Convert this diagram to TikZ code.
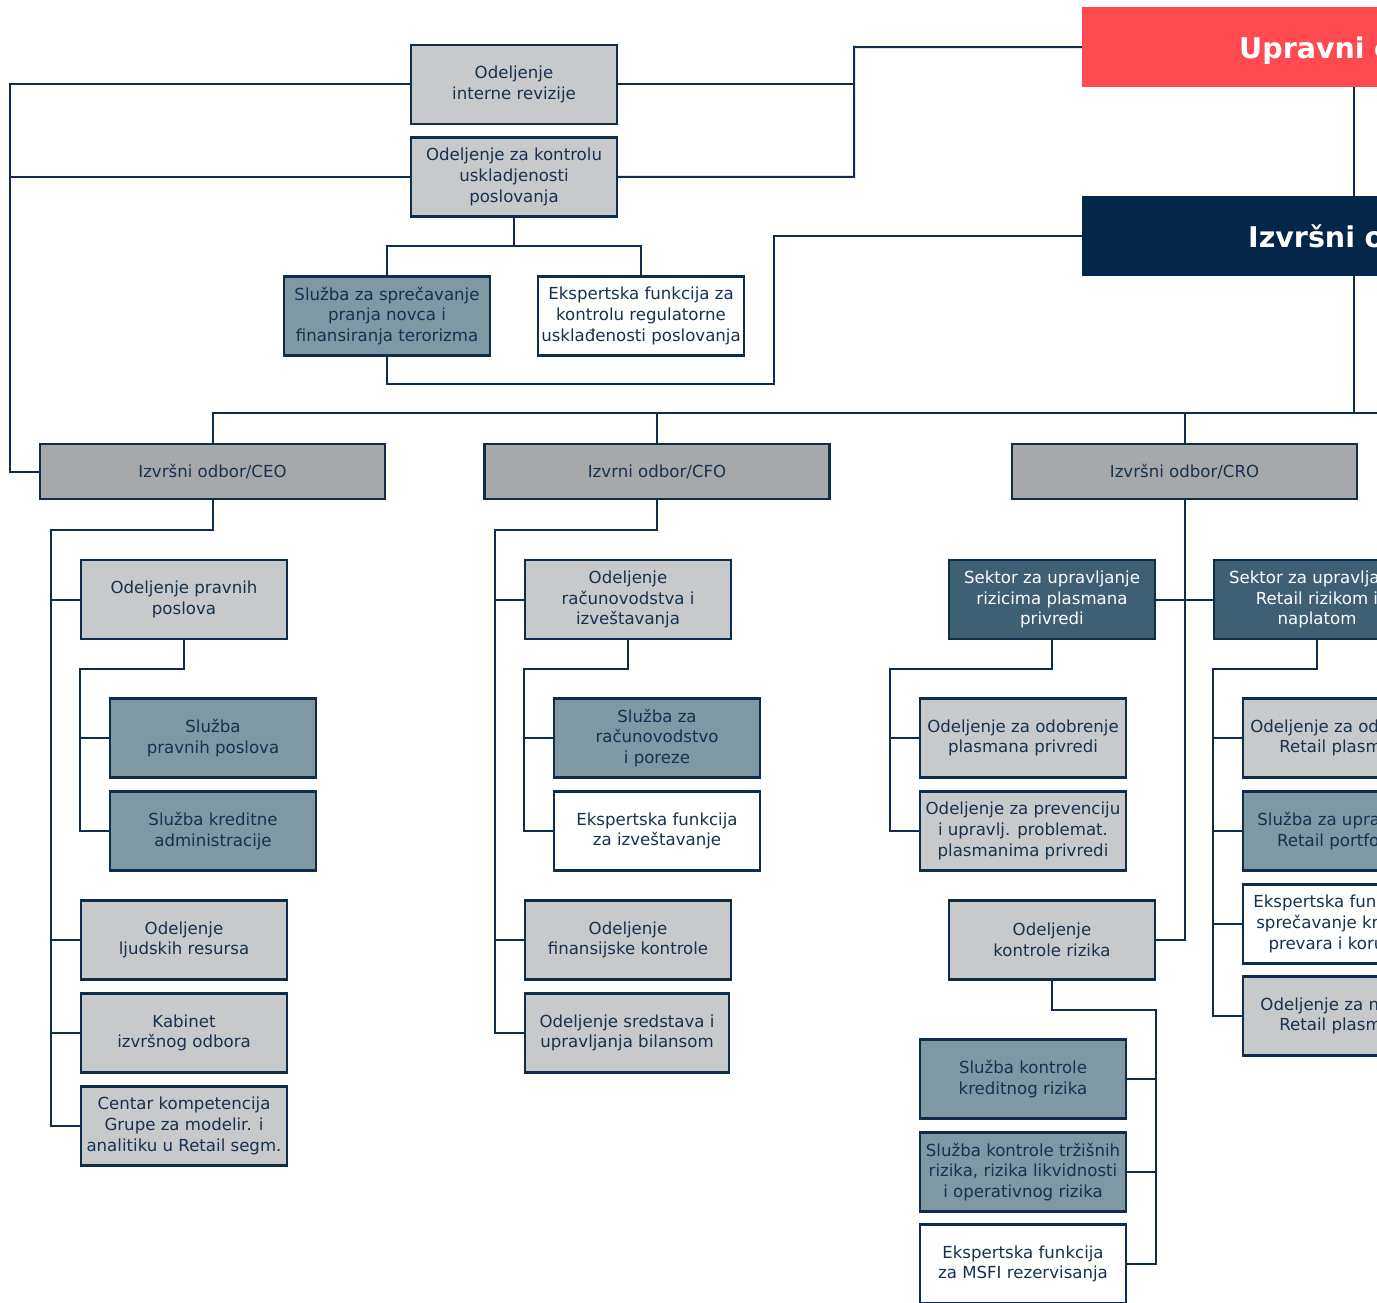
\documentclass[tikz,border=0pt]{standalone}
\usepackage{fontspec}
\setmainfont{DejaVu Sans}
\usetikzlibrary{calc}

\definecolor{boardred}{HTML}{FF4A52}
\definecolor{execnavy}{HTML}{03264A}
\definecolor{linenavy}{HTML}{0F2C4A}
\definecolor{textnavy}{HTML}{17314F}
\definecolor{lightgrey}{HTML}{C8C9CB}
\definecolor{midgrey}{HTML}{A7A8AA}
\definecolor{steel}{HTML}{7F98A3}
\definecolor{darksteel}{HTML}{3E6075}

\begin{document}
\begin{tikzpicture}[x=1pt, y=-1pt,
  box/.style={rectangle, draw=linenavy, line width=2.2pt, minimum width=206pt,
    minimum height=79pt, align=center, inner sep=2pt, text=textnavy,
    font=\fontsize{16.6}{20.6}\selectfont},
  dept/.style={box, fill=lightgrey},
  unit/.style={box, fill=steel},
  expert/.style={box, fill=white},
  sector/.style={box, fill=darksteel, text=white},
  exec/.style={box, fill=midgrey, minimum width=345pt, minimum height=55pt},
  title/.style={rectangle, anchor=north west, minimum height=80pt, text width=260pt,
    text depth=0pt, align=left, text=white, font=\fontsize{28.5}{32}\selectfont\bfseries},
  link/.style={draw=linenavy, line width=2pt}]
  \useasboundingbox (0,0) rectangle (1377,1303);
  \clip (0,0) rectangle (1377,1303);

  % board and executive committee
  \node[title, fill=boardred, inner xsep=157pt] (upr) at (1082,7) {Upravni odbor};
  \node[title, fill=execnavy, inner xsep=166pt] (izv) at (1082,196) {Izvršni odbor};

  % control functions
  \node[dept] (irev) at (514,84.5) {Odeljenje\\interne revizije};
  \node[dept] (kontr) at (514,177) {Odeljenje za kontrolu\\uskladjenosti\\poslovanja};
  \node[unit] (spnt) at (387,316) {Služba za sprečavanje\\pranja novca i\\finansiranja terorizma};
  \node[expert] (ekreg) at (641,316) {Ekspertska funkcija za\\kontrolu regulatorne\\usklađenosti poslovanja};

  % executive board members
  \node[exec] (ceo) at (212.5,471.5) {Izvršni odbor/CEO};
  \node[exec] (cfo) at (657,471.5) {Izvrni odbor/CFO};
  \node[exec] (cro) at (1184.5,471.5) {Izvršni odbor/CRO};

  % CEO
  \node[dept] (pravni) at (184,599.5) {Odeljenje pravnih\\poslova};
  \node[unit] (slprav) at (213,738) {Služba\\pravnih poslova};
  \node[unit] (slkred) at (213,831) {Služba kreditne\\administracije};
  \node[dept] (ljud) at (184,940) {Odeljenje\\ljudskih resursa};
  \node[dept] (kabinet) at (184,1033) {Kabinet\\izvršnog odbora};
  \node[dept] (centar) at (184,1126) {Centar kompetencija\\Grupe za modelir. i\\analitiku u Retail segm.};

  % CFO
  \node[dept] (racun) at (628,599.5) {Odeljenje\\računovodstva i\\izveštavanja};
  \node[unit] (slracun) at (657,738) {Služba za\\računovodstvo\\i poreze};
  \node[expert] (ekizv) at (657,831) {Ekspertska funkcija\\za izveštavanje};
  \node[dept] (finkon) at (628,940) {Odeljenje\\finansijske kontrole};
  \node[dept, minimum width=204pt] (sredst) at (627,1033) {Odeljenje sredstava i\\upravljanja bilansom};

  % CRO
  \node[sector] (sekpriv) at (1052,599.5) {Sektor za upravljanje\\rizicima plasmana\\privredi};
  \node[dept] (odpriv) at (1023,738) {Odeljenje za odobrenje\\plasmana privredi};
  \node[dept] (prevpriv) at (1023,831) {Odeljenje za prevenciju\\i upravlj. problemat.\\plasmanima privredi};
  \node[dept] (kontriz) at (1052,940) {Odeljenje\\kontrole rizika};
  \node[unit] (slkriz) at (1023,1079) {Služba kontrole\\kreditnog rizika};
  \node[unit] (sltrz) at (1023,1172) {Služba kontrole tržišnih\\rizika, rizika likvidnosti\\i operativnog rizika};
  \node[expert] (ekmsfi) at (1023,1264) {Ekspertska funkcija\\za MSFI rezervisanja};

  \node[sector] (sekret) at (1317,599.5) {Sektor za upravljanje\\Retail rizikom i\\naplatom};
  \node[dept] (odret) at (1346,738) {Odeljenje za odobrenje\\Retail plasmana};
  \node[unit] (slret) at (1346,831) {Služba za upravljanje\\Retail portfoliom};
  \node[expert] (ekret) at (1346,924) {Ekspertska funkcija za\\sprečavanje kreditnih\\prevara i korupcije};
  \node[dept] (napret) at (1346,1016) {Odeljenje za naplatu\\Retail plasmana};

  % bends of the connectors
  \coordinate (ubus) at (854,47);
  \coordinate (lbus) at (10,0);
  \coordinate (kbus) at (514,246);
  \coordinate (ibus) at (774,384);
  \coordinate (rbus) at (1354,413);
  \coordinate (ebus) at (1400,413);
  \coordinate (ceol) at (51,530);
  \coordinate (pravl) at (80,669);
  \coordinate (cfol) at (495,530);
  \coordinate (racl) at (524,669);
  \coordinate (privl) at (890,669);
  \coordinate (kril) at (1156,1010);
  \coordinate (retl) at (1213,669);

  % top
  \draw[link] (upr.west) -- (ubus) |- (kontr.east);
  \draw[link] (irev.east) -- (irev.east -| ubus);
  \draw[link] (irev.west) -- (irev.west -| lbus) |- (ceo.west);
  \draw[link] (kontr.west) -- (kontr.west -| lbus);
  \draw[link] (kontr.south) -- (kbus);
  \draw[link] (spnt.north) |- (kbus) -| (ekreg.north);
  \draw[link] (spnt.south) |- (ibus) |- (izv.west);
  \draw[link] (upr.south -| rbus) -- (izv.north -| rbus);
  \draw[link] (izv.south -| rbus) -- (rbus);
  \draw[link] (ceo.north) |- (ebus);
  \foreach \n in {cfo, cro}
    \draw[link] (\n.north) -- (\n.north |- ebus);

  % CEO
  \draw[link] (ceo.south) |- (ceol) |- (centar.west);
  \foreach \n in {pravni, ljud, kabinet}
    \draw[link] (\n.west) -- (\n.west -| ceol);
  \draw[link] (pravni.south) |- (pravl) |- (slkred.west);
  \draw[link] (slprav.west) -- (slprav.west -| pravl);

  % CFO
  \draw[link] (cfo.south) |- (cfol) |- (sredst.west);
  \foreach \n in {racun, finkon}
    \draw[link] (\n.west) -- (\n.west -| cfol);
  \draw[link] (racun.south) |- (racl) |- (ekizv.west);
  \draw[link] (slracun.west) -- (slracun.west -| racl);

  % CRO
  \draw[link] (cro.south) |- (kontriz.east);
  \draw[link] (sekpriv.east) -- (sekret.west);
  \draw[link] (sekpriv.south) |- (privl) |- (prevpriv.west);
  \draw[link] (odpriv.west) -- (odpriv.west -| privl);
  \draw[link] (kontriz.south) |- (kril) |- (ekmsfi.east);
  \foreach \n in {slkriz, sltrz}
    \draw[link] (\n.east) -- (\n.east -| kril);
  \draw[link] (sekret.south) |- (retl) |- (napret.west);
  \foreach \n in {odret, slret, ekret}
    \draw[link] (\n.west) -- (\n.west -| retl);
\end{tikzpicture}
\end{document}
